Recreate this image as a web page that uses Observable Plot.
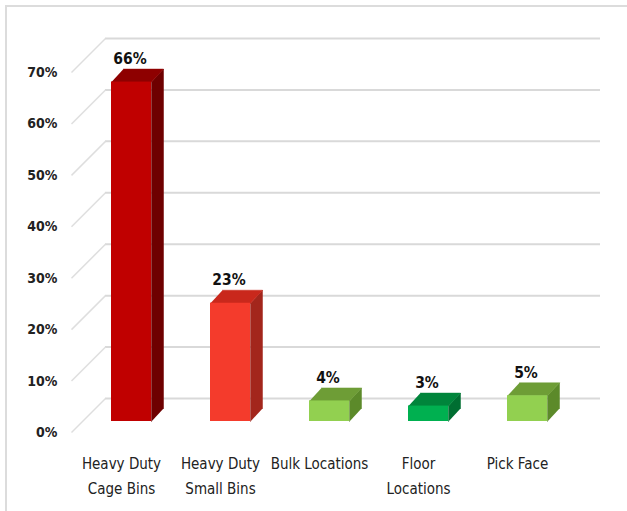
<!DOCTYPE html>
<html><head><meta charset="utf-8">
<script src="https://cdn.jsdelivr.net/npm/d3@7"></script>
<script src="https://cdn.jsdelivr.net/npm/@observablehq/plot@0.6"></script>
<style>
html,body{margin:0;padding:0;background:#fff;}
#wrap{position:relative;width:627px;height:511px;overflow:hidden;}
#border{position:absolute;left:5px;top:5px;right:-2px;bottom:-2px;border-top:2px solid #dcdcdc;border-left:2px solid #dcdcdc;pointer-events:none;}
svg text{font-family:"DejaVu Sans Condensed","DejaVu Sans",sans-serif;}
</style></head>
<body><div id="wrap"><div id="border"></div></div>
<script>
const categories = ["Heavy Duty\nCage Bins", "Heavy Duty\nSmall Bins", "Bulk Locations", "Floor\nLocations", "Pick Face"];
const values = [66, 23, 4, 3, 5];
const frontColors = ["#c00000", "#f43b2c", "#92d050", "#00b050", "#92d050"];
const topColors = ["#8e0000", "#c9281c", "#6e9d36", "#00853b", "#6e9d36"];
const sideColors = ["#6e0000", "#a3261c", "#5c8a2a", "#006e31", "#5c8a2a"];
const yTicks = [0, 10, 20, 30, 40, 50, 60, 70];

// layout (pixels)
const XPX = 99, YPX = 360 / 70;        // px per x unit, px per percent
const half = 20 / XPX;                  // bar half width
const DX = 12 / XPX, DY = 13 / YPX;     // bar depth
const WALL_BACK = 23 / YPX, FLOOR_FRONT = 11 / YPX;
const xWallL = -26 / XPX, xWallR = 469 / XPX, xAxisL = -60 / XPX;

const bars = values.map((v, i) => ({i, v, cat: categories[i], front: frontColors[i]}));
const poly = [];
bars.forEach(b => {
  const xl = b.i - half, xr = b.i + half;
  [[xr,0],[xr,b.v],[xr+DX,b.v+DY],[xr+DX,DY]].forEach(([x,y]) => poly.push({key:"s"+b.i, x, y, c: sideColors[b.i]}));
  [[xl,b.v],[xr,b.v],[xr+DX,b.v+DY],[xl+DX,b.v+DY]].forEach(([x,y]) => poly.push({key:"t"+b.i, x, y, c: topColors[b.i]}));
});

const chart = Plot.plot({
  width: 627, height: 511,
  marginTop: 0, marginRight: 0, marginBottom: 0, marginLeft: 0,
  x: {domain: [0, 4], range: [131, 527], axis: null},
  y: {domain: [0, 70], range: [421, 61], axis: null},
  color: {type: "identity"},
  marks: [
    Plot.ruleY(yTicks, {y: d => d + WALL_BACK, x1: xWallL, x2: xWallR, stroke: "#d9d9d9", strokeWidth: 2}),
    Plot.link(yTicks, {x1: xAxisL, y1: d => d - FLOOR_FRONT, x2: xWallL, y2: d => d + WALL_BACK, stroke: "#dedede", strokeWidth: 1.5}),
    Plot.text(yTicks, {x: -74 / XPX, y: d => d - FLOOR_FRONT, text: d => d + "%", textAnchor: "end", fontSize: 14, fontWeight: "bold", fill: "#222"}),
    Plot.line(poly, {x: "x", y: "y", z: "key", fill: "c", stroke: "c", strokeWidth: 0.5, curve: "linear"}),
    Plot.rect(bars, {x1: d => d.i - half, x2: d => d.i + half, y1: 0, y2: "v", fill: "front"}),
    Plot.text(bars, {x: d => d.i - 1.5 / XPX, y: "v", dy: -23, text: d => d.v + "%", fontSize: 15.5, fontWeight: "bold", fill: "#111"}),
    Plot.text(bars, {x: d => d.i - 10 / XPX, y: 0, dy: 30, text: "cat", lineAnchor: "top", lineHeight: 1.67, fontSize: 15, fill: "#222"})
  ]
});
document.getElementById("wrap").prepend(chart);
</script>
</body></html>
